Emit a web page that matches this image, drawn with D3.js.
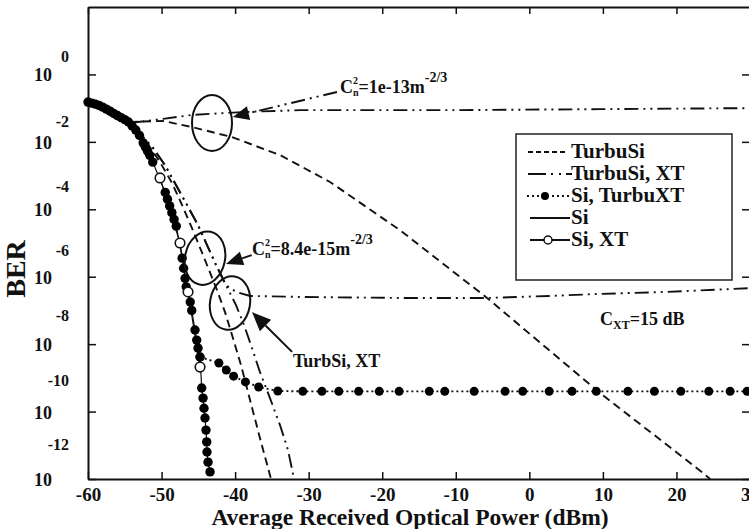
<!DOCTYPE html>
<html>
<head>
<meta charset="utf-8">
<script src="https://cdn.jsdelivr.net/npm/d3@7/dist/d3.min.js"></script>
<style>
  html, body { margin: 0; padding: 0; background: #fff; }
  svg text { font-family: "Liberation Serif", "Times New Roman", serif; font-weight: bold; fill: #111; }
</style>
</head>
<body>
<svg id="chart" width="749" height="529"></svg>
<script>
// Power axis (dBm) and BER exponents used for the ticks
const powerTicks = [-60, -50, -40, -30, -20, -10, 0, 10, 20, 30];
const berTickExponents = [0, -2, -4, -6, -8, -10, -12];

// Every curve is stored as received power (dBm) and log10(BER)

// Si, plain link (solid, dense markers near the origin)
const siPower = [-60, -59.5, -59, -58.5, -58, -57.5, -57, -56.5, -56, -55.5, -55, -54.5, -54, -53.5, -53,
  -52.5, -52.2, -51.9, -51.6, -51.2,
  -49.5, -49.2, -48.9, -48.6, -48.3, -48.0,
  -47.2, -47.0, -46.8, -46.65,
  -46.1, -45.9, -45.45, -45.22, -45.04, -44.77,
  -44.54, -44.36, -44.23, -44.09, -43.96, -43.86, -43.82, -43.68, -43.41];
const siLogBer = [-0.82, -0.85, -0.88, -0.92, -0.97, -1.03, -1.09, -1.16, -1.22, -1.28, -1.34, -1.41, -1.53, -1.65, -1.81,
  -2.03, -2.15, -2.28, -2.40, -2.60,
  -3.50, -3.70, -3.90, -4.10, -4.30, -4.50,
  -5.45, -5.75, -6.05, -6.30,
  -6.75, -7.00, -7.58, -7.88, -8.12, -8.38,
  -9.30, -9.60, -9.90, -10.19, -10.55, -10.90, -11.20, -11.50, -11.79];

// Si with crosstalk (open circles)
const siXtPower = [-50.21, -47.49, -46.40, -44.77];
const siXtLogBer = [-3.07, -5.00, -6.45, -8.68];

// Si with turbulence-induced crosstalk (dotted, filled dots, error floor)
const siTurbuXtPower = [-44.77, -42.2, -41.2, -40.2, -38.6, -36.8, -34.2, -30.8, -28.2, -25.9, -23.2, -20.4, -17.7,
  -13.6, -11.5, -7.5, -3.3, -0.9, 2.7, 5.8, 9.1, 13.4, 17.0, 20.6, 24.4, 27.3, 29.6];
const siTurbuXtLogBer = [-8.38, -8.56, -8.77, -8.95, -9.12, -9.27, -9.39, -9.40, -9.40, -9.40, -9.40, -9.40, -9.40,
  -9.40, -9.40, -9.40, -9.40, -9.40, -9.40, -9.40, -9.40, -9.40, -9.40, -9.40, -9.40, -9.40, -9.40];

// TurbuSi, Cn2 = 1e-13 m^-2/3 (dashed)
const turbuSiStrongPower = [-54.29, -49.80, -45.86, -40.42, -33.90, -27.10, -17.58, -5.75, 9.61, 23.62, 24.57];
const turbuSiStrongLogBer = [-1.41, -1.38, -1.56, -1.86, -2.39, -3.19, -4.62, -6.63, -9.45, -11.82, -12.0];

// TurbuSi with XT, Cn2 = 1e-13 m^-2/3 (dash-dot)
const turbuSiXtStrongPower = [-54.29, -49.80, -45.86, -38.38, -31.18, -10.78, 9.61, 30];
const turbuSiXtStrongLogBer = [-1.44, -1.32, -1.20, -1.11, -1.06, -1.06, -1.03, -1.00];

// TurbuSi, Cn2 = 8.4e-15 m^-2/3 (dashed)
const turbuSiWeakPower = [-54.29, -51.98, -50.21, -48.58, -47.22, -45.86, -44.64, -43.55, -42.46, -41.37, -40.42,
  -39.20, -37.97, -36.62, -35.12];
const turbuSiWeakLogBer = [-1.44, -2.03, -2.60, -3.22, -3.87, -4.56, -5.21, -5.80, -6.40, -7.05, -7.73,
  -8.62, -9.66, -10.79, -12.0];

// TurbuSi with XT, Cn2 = 8.4e-15 m^-2/3, steep branch (dash-dot)
const turbuSiXtWeakPower = [-53.61, -51.16, -49.53, -48.04, -46.54, -45.04, -43.82, -42.60, -41.24, -39.88, -38.79,
  -37.70, -36.62, -35.26, -33.90, -32.81, -31.99];
const turbuSiXtWeakLogBer = [-1.59, -2.18, -2.69, -3.28, -3.87, -4.47, -5.06, -5.65, -6.25, -6.84, -7.43,
  -8.12, -8.83, -9.60, -10.40, -11.14, -12.0];

// TurbuSi with XT (C_XT = 15 dB), floor branch (dash-dot)
const turbuSiXtFloorPower = [-53.61, -51.16, -49.53, -48.04, -46.54, -45.04, -43.82, -42.60, -41.24, -39.88, -37.97,
  -31.18, -17.58, -5.75, 2.81, 9.61, 18.72, 30];
const turbuSiXtFloorLogBer = [-1.59, -2.18, -2.69, -3.28, -3.87, -4.47, -5.06, -5.65, -6.25, -6.45, -6.57,
  -6.60, -6.63, -6.63, -6.57, -6.51, -6.45, -6.34];

const legendLabels = ["TurbuSi", "TurbuSi, XT", "Si, TurbuXT", "Si", "Si, XT"];

const svg = d3.select("#chart");
const plotLeft = 88, plotRight = 750, plotTop = 7, plotBottom = 479;

const x = d3.scaleLinear().domain([-60, 30]).range([plotLeft, plotRight]);
const y = d3.scaleLog().domain([1e-12, 1e2]).range([plotBottom, plotTop]);
const zip = (xs, ls) => xs.map((v, i) => ({ p: v, b: Math.pow(10, ls[i]) }));
const P = (p, l) => [x(p), y(Math.pow(10, l))];

const dashed = "8,5";
const dashDot = "14,5,2,5,2,5";
const dotted = "2,3";

// ---- frame and axes ----
function styleAxis(g) {
  g.select(".domain").attr("stroke", "#111").attr("stroke-width", 2);
  g.selectAll(".tick line").attr("stroke", "#111").attr("stroke-width", 1.5);
}
const gx = svg.append("g").attr("transform", `translate(0,${plotBottom})`)
  .call(d3.axisBottom(x).tickValues(powerTicks).tickSizeInner(-7).tickSizeOuter(0).tickPadding(11)
    .tickFormat(d => String(d)));
styleAxis(gx);
gx.selectAll(".tick text").attr("font-size", 19).attr("dy", "0.6em").attr("fill", "#111")
  .style("font-family", '"Liberation Serif", serif').style("font-weight", "bold");

const gy = svg.append("g").attr("transform", `translate(${plotLeft},0)`)
  .call(d3.axisLeft(y).tickValues(berTickExponents.map(e => Math.pow(10, e)))
    .tickSizeInner(-8).tickSizeOuter(0).tickFormat(() => ""));
styleAxis(gy);

// top and right edges of the box with inward ticks
const gTop = svg.append("g").attr("transform", `translate(0,${plotTop})`)
  .call(d3.axisTop(x).tickValues(powerTicks).tickSizeInner(-7).tickSizeOuter(0).tickFormat(() => ""));
styleAxis(gTop);
const gRight = svg.append("g").attr("transform", `translate(${plotRight},0)`)
  .call(d3.axisRight(y).tickValues(berTickExponents.map(e => Math.pow(10, e)))
    .tickSizeInner(-8).tickSizeOuter(0).tickFormat(() => ""));
styleAxis(gRight);

// y tick labels written as 10 with a raised exponent
const yl = svg.append("g");
berTickExponents.forEach((e, i) => {
  const ty = y(Math.pow(10, e));
  yl.append("text").attr("x", 52).attr("y", ty + 7).attr("text-anchor", "end")
    .attr("font-size", 18).text("10");
  yl.append("text").attr("x", 69).attr("y", ty - 12 - 2.8 * i).attr("text-anchor", "end")
    .attr("font-size", 16).text(String(e));
});

// axis titles
svg.append("text").attr("x", 410).attr("y", 525).attr("text-anchor", "middle")
  .attr("font-size", 23.5).text("Average Received Optical Power (dBm)");
svg.append("text").attr("transform", "translate(25,269) rotate(-90)").attr("text-anchor", "middle")
  .attr("font-size", 28).text("BER");

// ---- curves ----
const line = d3.line().x(d => x(d.p)).y(d => y(d.b));
const plot = svg.append("g");
function drawLine(data, dash, width) {
  plot.append("path").datum(data).attr("d", line).attr("fill", "none")
    .attr("stroke", "#111").attr("stroke-width", width || 1.6)
    .attr("stroke-dasharray", dash || null);
}

drawLine(zip(turbuSiStrongPower, turbuSiStrongLogBer), dashed, 1.9);
drawLine(zip(turbuSiXtStrongPower, turbuSiXtStrongLogBer), dashDot, 1.9);
drawLine(zip(turbuSiWeakPower, turbuSiWeakLogBer), dashed, 1.9);
drawLine(zip(turbuSiXtWeakPower, turbuSiXtWeakLogBer), dashDot, 1.9);
drawLine(zip(turbuSiXtFloorPower, turbuSiXtFloorLogBer), dashDot, 1.9);

const siData = zip(siPower, siLogBer);
const siXtData = zip(siXtPower, siXtLogBer);
const siTurbuXtData = zip(siTurbuXtPower, siTurbuXtLogBer);
drawLine(siData, null, 1.2);
drawLine(siXtData, null, 1.2);
drawLine(siTurbuXtData, dotted, 1.9);

plot.selectAll("circle.si").data(siData).join("circle").attr("class", "si")
  .attr("cx", d => x(d.p)).attr("cy", d => y(d.b)).attr("r", 4.7).attr("fill", "#000");
plot.selectAll("circle.tx").data(siTurbuXtData).join("circle").attr("class", "tx")
  .attr("cx", d => x(d.p)).attr("cy", d => y(d.b)).attr("r", 4.5).attr("fill", "#000");
plot.selectAll("circle.sx").data(siXtData).join("circle").attr("class", "sx")
  .attr("cx", d => x(d.p)).attr("cy", d => y(d.b)).attr("r", 4.8)
  .attr("fill", "#fff").attr("stroke", "#111").attr("stroke-width", 1.6);

// ---- annotations ----
const ann = svg.append("g");
function ellipse(c, rx, ry, rot) {
  ann.append("ellipse").attr("cx", 0).attr("cy", 0).attr("rx", rx).attr("ry", ry)
    .attr("transform", `translate(${c[0]},${c[1]}) rotate(${rot})`)
    .attr("fill", "none").attr("stroke", "#111").attr("stroke-width", 2);
}
ellipse(P(-43.14, -1.44), 20, 28, 0);
ellipse(P(-44.09, -5.45), 20, 27, 12);
ellipse(P(-40.69, -6.78), 20, 27, 10);

function arrow(from, tip, len, half, dash) {
  const dx = tip[0] - from[0], dy = tip[1] - from[1];
  const L = Math.hypot(dx, dy), ux = dx / L, uy = dy / L;
  const bx = tip[0] - ux * len, by = tip[1] - uy * len;
  ann.append("line").attr("x1", from[0]).attr("y1", from[1]).attr("x2", bx).attr("y2", by)
    .attr("stroke", "#111").attr("stroke-width", 2).attr("stroke-dasharray", dash || null);
  ann.append("polygon").attr("fill", "#111")
    .attr("points", [[tip[0], tip[1]], [bx - uy * half, by + ux * half], [bx + uy * half, by - ux * half]].join(" "));
}
arrow(P(-26.15, -0.52), P(-40.29, -1.26), 16, 7, dashDot);
arrow(P(-37.75, -5.36), P(-41.24, -5.62), 17, 7);
arrow(P(-32.26, -8.23), P(-37.70, -7.05), 19, 8);

// formula text with stacked super/subscripts
function formula(at, pieces) {
  let cx = at[0];
  pieces.forEach(pc => {
    const t = ann.append("text").attr("x", cx).attr("y", at[1] + (pc.dy || 0))
      .attr("font-size", pc.size).text(pc.text);
    if (!pc.stack) cx += t.node().getComputedTextLength();
  });
}
const cn2 = val => [
  { text: "C", size: 18 },
  { text: "2", size: 10, dy: -9, stack: true },
  { text: "n", size: 10, dy: 3 },
  { text: "=" + val + "m", size: 18 },
  { text: "-2/3", size: 14, dy: -11 }
];
formula(P(-25.74, -0.55), cn2("1e-13"));
formula(P(-37.70, -5.36), cn2("8.4e-15"));
formula(P(9.61, -7.43), [
  { text: "C", size: 18 },
  { text: "XT", size: 12, dy: 4 },
  { text: "=15 dB", size: 18 }
]);
const tsPos = P(-32.13, -8.68);
ann.append("text").attr("x", tsPos[0]).attr("y", tsPos[1]).attr("font-size", 18).text("TurbSi, XT");

// ---- legend ----
const lg = svg.append("g");
lg.append("rect").attr("x", 516).attr("y", 134).attr("width", 216).attr("height", 146)
  .attr("fill", "#fff").attr("stroke", "#222").attr("stroke-width", 1.5);
legendLabels.forEach((lab, i) => {
  const by = 158 + 22 * i, ly = by - 6;
  const seg = (x1, x2, dash, w) => lg.append("line").attr("x1", x1).attr("x2", x2)
    .attr("y1", ly).attr("y2", ly).attr("stroke", "#111").attr("stroke-width", w || 1.8)
    .attr("stroke-dasharray", dash || null);
  if (i === 0) seg(528, 567, "5,3");
  if (i === 1) seg(528, 572, "18,5,2,6,2,5,6");
  if (i === 2) { seg(527, 569, dotted); lg.append("circle").attr("cx", 545).attr("cy", ly).attr("r", 4).attr("fill", "#000"); }
  if (i === 3) seg(530, 570, null, 2.2);
  if (i === 4) { seg(530, 570, null, 2.2); lg.append("circle").attr("cx", 548).attr("cy", ly).attr("r", 4)
    .attr("fill", "#fff").attr("stroke", "#111").attr("stroke-width", 1.5); }
  lg.append("text").attr("x", 571).attr("y", by).attr("font-size", 21).text(lab);
});
</script>
</body>
</html>
